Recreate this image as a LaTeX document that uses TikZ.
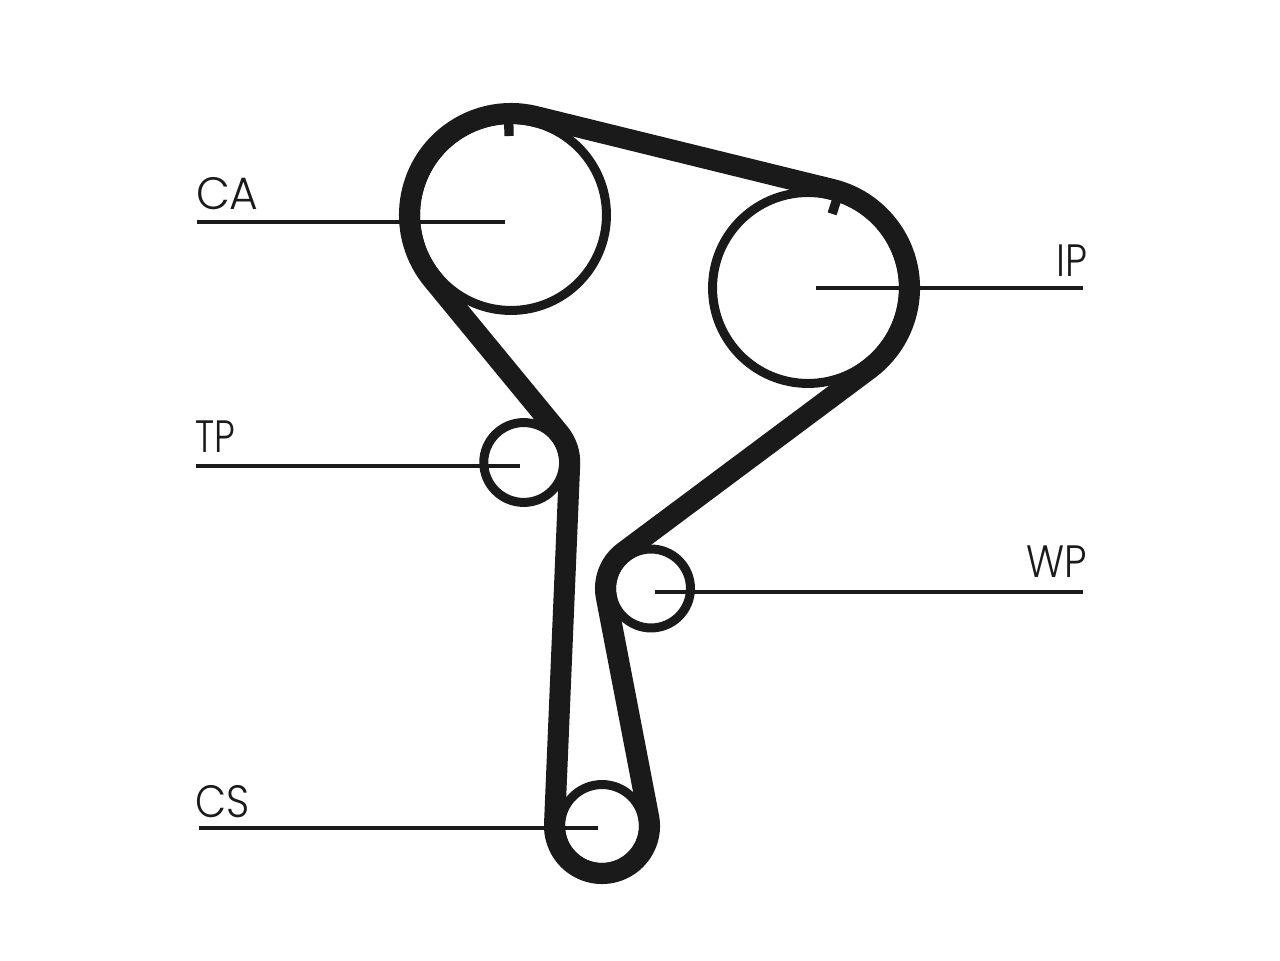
\documentclass[tikz,border=0pt]{standalone}
\usepackage{fontspec}
\usepackage{graphicx}
\setmainfont{Poppins Light}
\usetikzlibrary{calc}
\definecolor{belt}{HTML}{1A1A1A}
\begin{document}
\begin{tikzpicture}[x=0.75pt,y=0.75pt,
  pulley/.style={circle, fill=none, draw=belt, line width=6.75pt, inner sep=0pt, outer sep=0pt},
  beltline/.style={draw=belt, line width=15.8pt, line join=round},
  leader/.style={draw=belt, line width=2.8pt},
  tick/.style={draw=belt, line width=7pt},
  tag/.style={text=belt, font=\fontsize{34pt}{34pt}\selectfont, inner xsep=0pt, outer sep=0pt}]
\useasboundingbox (0,0) rectangle (1280,960);
\node [pulley, minimum size=143.2pt] (ca) at (511,745) {};
\node [pulley, minimum size=143.2pt] (ip) at (808,672) {};
\node [pulley, minimum size=59.9pt] (tp) at (523.7,497.5) {};
\node [pulley, minimum size=59.2pt] (wp) at (651,371.5) {};
\node [pulley, minimum size=62.2pt] (cs) at (602,134) {};
\draw [beltline] ($(ca)+(219.47:101.5)$) arc [start angle=219.47, end angle=76.19, radius=101.5]
  -- ($(ip)+(76.19:101.5)$) arc [start angle=76.19, end angle=-53.28, radius=101.5]
  -- ($(wp)+(126.72:45.5)$) arc [start angle=126.72, end angle=190.89, radius=45.5]
  -- ($(cs)+(10.89:47.5)$) arc [start angle=10.89, end angle=-182.4, radius=47.5]
  -- ($(tp)+(-2.4:46)$) arc [start angle=-2.4, end angle=39.47, radius=46]
  -- cycle;
\draw [tick] ($(ca)+(91.4:95)$) -- ($(ca)+(91.4:79)$);
\draw [tick] ($(ip)+(72:95)$) -- ($(ip)+(72:78)$);
\node [tag, inner ysep=9.5pt, anchor=south west] (calabel) at (196,738) {\scalebox{.97}[1]{CA}};
\node [tag, inner ysep=8.5pt, anchor=south east] (iplabel) at (1087,672) {\scalebox{.86}[1]{IP}};
\node [tag, inner ysep=10pt, anchor=south west] (tplabel) at (195,494) {\scalebox{.81}[1]{TP}};
\node [tag, inner ysep=10.5pt, anchor=south east] (wplabel) at (1087,368) {\scalebox{.88}[1]{WP}};
\node [tag, inner ysep=7.75pt, anchor=south west] (cslabel) at (195,132) {\scalebox{.89}[1]{CS}};
\coordinate (caend) at (505,738);
\coordinate (ipend) at (816,672);
\coordinate (tpend) at (520,494);
\coordinate (wpend) at (655,368);
\coordinate (csend) at (598,132);
\draw [leader] ([xshift=0.75pt]calabel.south west) -- (caend);
\draw [leader] ([xshift=-3pt]iplabel.south east) -- (ipend);
\draw [leader] ([xshift=1pt]tplabel.south west) -- (tpend);
\draw [leader] ([xshift=-3pt]wplabel.south east) -- (wpend);
\draw [leader] ([xshift=3pt]cslabel.south west) -- (csend);
\end{tikzpicture}
\end{document}
